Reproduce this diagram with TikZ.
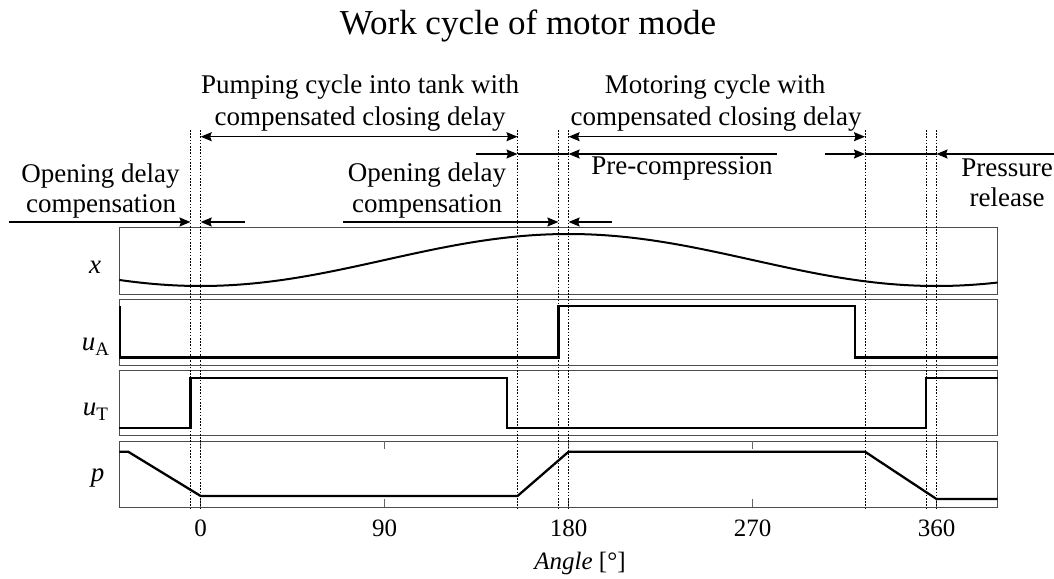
\documentclass[tikz,border=0pt]{standalone}
\usepackage{fontspec}
\setmainfont{Liberation Serif}
\usetikzlibrary{arrows.meta}
\begin{document}
\begin{tikzpicture}[x=1pt,y=-1pt,
  frame/.style={draw=black!70, line width=0.9pt},
  sig/.style={line width=2.3pt, line join=miter},
  dots/.style={line width=0.9pt, dash pattern=on 1.6pt off 1.6pt},
  tick/.style={draw=black!60, line width=0.8pt},
  hd/.style={line width=1.3pt, -{Stealth[length=11pt,width=9pt,inset=1.5pt]}},
  both/.style={line width=1.3pt, {Stealth[length=11pt,width=9pt,inset=1.5pt]}-{Stealth[length=11pt,width=9pt,inset=1.5pt]}},
  plain/.style={line width=1.3pt},
  lbl/.style={font=\fontsize{27}{31}\selectfont, inner sep=0pt, anchor=base},
  ttl/.style={font=\fontsize{35}{40}\selectfont, inner sep=0pt, anchor=base},
  ticklbl/.style={font=\fontsize{25}{29}\selectfont, inner sep=0pt, anchor=base},
  ylbl/.style={font=\fontsize{27}{31}\selectfont, inner sep=0pt, anchor=base}
]
\useasboundingbox (0,0) rectangle (1054,578);

% title
\node[ttl] (title) at (528,35) {Work cycle of motor mode};

% panel frames
\draw[frame] (119.3,227.5) rectangle (997.7,294) coordinate (fx);
\draw[frame] (119.3,299.3) rectangle (997.7,365) coordinate (fa);
\draw[frame] (119.3,370) rectangle (997.7,435) coordinate (ft);
\draw[frame] (119.3,441) rectangle (997.7,507) coordinate (fp);

% y labels
\node[ylbl] (lx) at (95,273) {\textit{x}};
\node[ylbl] (lua) at (95.5,350) {\textit{u}\raisebox{-0.22em}{\fontsize{19}{19}\selectfont A}};
\node[ylbl] (lut) at (95.5,415) {\textit{u}\raisebox{-0.22em}{\fontsize{19}{19}\selectfont T}};
\node[ylbl] (lp) at (97.5,481) {\textit{p}};

\begin{scope}[xshift=200.7pt, x=2.0439pt]
  % ticks on p panel
  \foreach \a in {0,90,180,270,360}{
    \draw[tick] (\a,441) -- (\a,449);
    \draw[tick] (\a,507) -- (\a,499);
    \node[ticklbl] (t\a) at (\a,536) {\a};
  }
  % signals
  \draw[line width=2pt, domain=-39.8:389.9, samples=150, smooth] plot (\x, {260+26*cos(\x)});
  \draw[sig] (-39.6,306.3) -- (-39.6,357.5) -- (175,357.5) -- (175,306.3) -- (320,306.3) -- (320,357.5) -- (389.9,357.5);
  \draw[sig] (-39.8,427.7) -- (-5,427.7) -- (-5,377.7) -- (150,377.7) -- (150,427.7) -- (355,427.7) -- (355,377.7) -- (389.9,377.7);
  \draw[sig] (-39.8,451.7) -- (-35.5,451.7) -- (0,496) -- (155,496) -- (180,451.7) -- (325,451.7) -- (360,499) -- (389.9,499);
  % dotted guide lines
  \foreach \a/\n in {-5/m5,0/z,155/a,175/b,180/c,325/d,355/e,360/f}{
    \draw[dots] (\a,130) coordinate (top\n) -- (\a,510) coordinate (bot\n);
    \coordinate (r1\n) at (\a,136.7);
    \coordinate (r2\n) at (\a,154);
    \coordinate (r3\n) at (\a,222);
  }
\end{scope}

% free ends of arrows
\coordinate (s1) at (476,154);
\coordinate (s2) at (776.7,154);
\coordinate (s3) at (825,154);
\coordinate (s4) at (1054,154);
\coordinate (s5) at (9,222);
\coordinate (s6) at (245,222);
\coordinate (s7) at (343,222);
\coordinate (s8) at (612,222);

% top row
\draw[both] (r1z) -- (r1a);
\draw[both] (r1c) -- (r1d);
% middle row
\draw[hd] (s1) -- (r2a);
\draw[plain] (r2a) -- (r2c);
\draw[hd] (s2) -- (r2c);
\draw[hd] (s3) -- (r2d);
\draw[plain] (r2d) -- (r2f);
\draw[hd] (s4) -- (r2f);
% lower row
\draw[hd] (s5) -- (r3m5);
\draw[hd] (s6) -- (r3z);
\draw[hd] (s7) -- (r3b);
\draw[hd] (s8) -- (r3c);

% texts
\node[lbl] (pump1) at (360,93.3) {Pumping cycle into tank with};
\node[lbl] (pump2) at (360,125) {compensated closing delay};
\node[lbl] (mot1) at (715,93.3) {Motoring cycle with};
\node[lbl] (mot2) at (716,125) {compensated closing delay};
\node[lbl] (odl1) at (100.5,182) {Opening delay};
\node[lbl] (odl2) at (101,212.5) {compensation};
\node[lbl] (odm1) at (427,181.5) {Opening delay};
\node[lbl] (odm2) at (427,212) {compensation};
\node[lbl] (prec) at (682,174) {Pre-compression};
\node[lbl] (pr1) at (1007,176) {Pressure};
\node[lbl] (pr2) at (1007,206.5) {release};

\node[ticklbl] (angle) at (580,569) {\textit{Angle} [°]};
\end{tikzpicture}
\end{document}
